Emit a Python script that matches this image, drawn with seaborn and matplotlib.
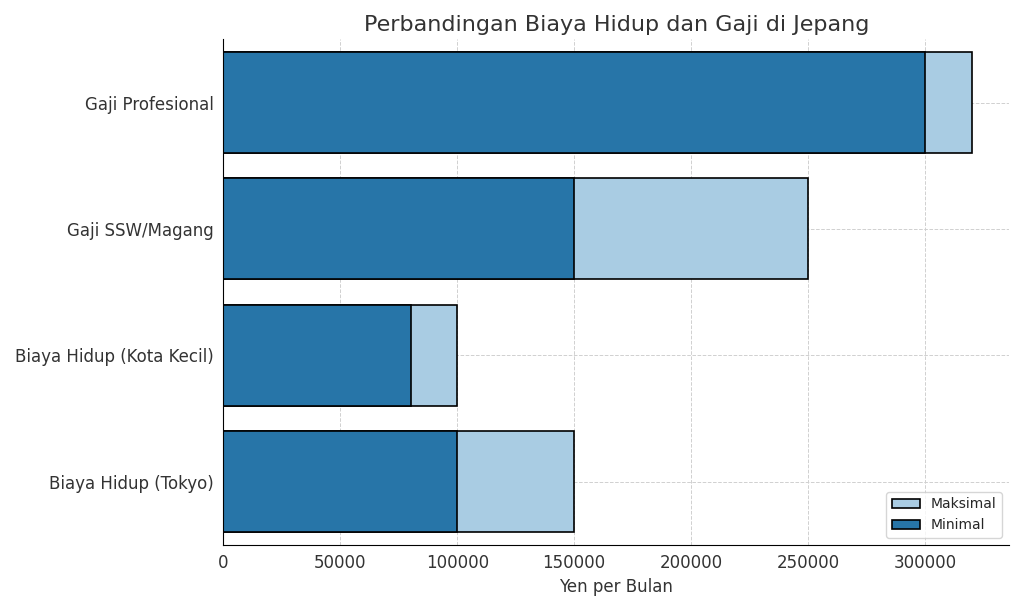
import matplotlib
matplotlib.use('Agg')
import matplotlib.pyplot as plt
import seaborn as sns
import pandas as pd

categories = ['Biaya Hidup (Tokyo)', 'Biaya Hidup (Kota Kecil)', 'Gaji SSW/Magang', 'Gaji Profesional']
minimal = [100000, 80000, 150000, 300000]
maksimal = [150000, 100000, 250000, 320000]

sns.set_style('whitegrid', {'grid.linestyle': '--', 'grid.color': '#d0d0d0'})
plt.rcParams['font.family'] = ['DejaVu Sans']

df = pd.DataFrame({'cat': categories, 'min': minimal, 'max': maksimal})
order = categories[::-1]

fig, ax = plt.subplots(figsize=(10.24, 6.11), dpi=100)
sns.barplot(data=df, y='cat', x='max', order=order, color='#a9cce3', edgecolor='black',
            linewidth=1.2, width=0.8, saturation=1, label='Maksimal', ax=ax)
sns.barplot(data=df, y='cat', x='min', order=order, color='#2775a8', edgecolor='black',
            linewidth=1.2, width=0.8, saturation=1, label='Minimal', ax=ax)

ax.set_title('Perbandingan Biaya Hidup dan Gaji di Jepang', fontsize=16, color='#333333')
ax.set_xlabel('Yen per Bulan', fontsize=12, color='#333333')
ax.set_ylabel('')
ax.tick_params(axis='both', labelsize=12, colors='#333333')
ax.set_xticks(range(0, 300001, 50000))
ax.set_xlim(0, 336000)
ax.grid(True, axis='both', linestyle='--', linewidth=0.7)
for s in ['top', 'right']:
    ax.spines[s].set_visible(False)
for s in ['left', 'bottom']:
    ax.spines[s].set_color('black')
ax.legend(loc='lower right', fontsize=10)
plt.tight_layout()
plt.savefig('out.png', dpi=100)
